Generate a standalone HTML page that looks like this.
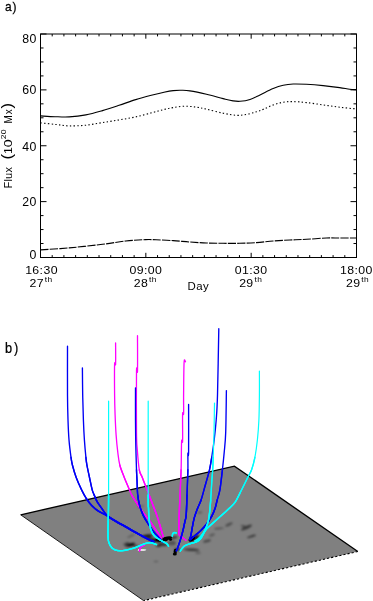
<!DOCTYPE html>
<html><head><meta charset="utf-8">
<style>
html,body{margin:0;padding:0;background:#fff;}
svg{display:block;font-family:"Liberation Sans",sans-serif;}
.t{font-size:11px;letter-spacing:0.35px;fill:#000;}
svg{will-change:transform;}
</style></head><body>
<svg width="373" height="601" viewBox="0 0 373 601">
<defs>
<filter id="bl" x="-50%" y="-50%" width="200%" height="200%"><feGaussianBlur stdDeviation="0.8"/></filter>
<filter id="bl2" x="-50%" y="-50%" width="200%" height="200%"><feGaussianBlur stdDeviation="0.45"/></filter>
<clipPath id="pc"><polygon points="20.7,514.8 234.4,466.1 357.8,551.5 143.6,600.6"/></clipPath>
</defs>
<rect width="373" height="601" fill="#fff"/>
<text transform="translate(5.0,10.8) scale(0.95,1)" font-size="12.6" fill="#000" stroke="#000" stroke-width="0.25" style="letter-spacing:0.9px">a)</text>
<!-- axes -->
<rect x="40.5" y="34.0" width="316.0" height="223.5" fill="none" stroke="#000" stroke-width="1"/>
<path d="M40.50,257.5 v-4.7 M40.50,34.0 v4.7 M52.20,257.5 v-2.4 M52.20,34.0 v2.4 M63.91,257.5 v-2.4 M63.91,34.0 v2.4 M75.61,257.5 v-2.4 M75.61,34.0 v2.4 M87.31,257.5 v-2.4 M87.31,34.0 v2.4 M99.02,257.5 v-2.4 M99.02,34.0 v2.4 M110.72,257.5 v-2.4 M110.72,34.0 v2.4 M122.43,257.5 v-2.4 M122.43,34.0 v2.4 M134.13,257.5 v-2.4 M134.13,34.0 v2.4 M145.83,257.5 v-4.7 M145.83,34.0 v4.7 M157.54,257.5 v-2.4 M157.54,34.0 v2.4 M169.24,257.5 v-2.4 M169.24,34.0 v2.4 M180.94,257.5 v-2.4 M180.94,34.0 v2.4 M192.65,257.5 v-2.4 M192.65,34.0 v2.4 M204.35,257.5 v-2.4 M204.35,34.0 v2.4 M216.06,257.5 v-2.4 M216.06,34.0 v2.4 M227.76,257.5 v-2.4 M227.76,34.0 v2.4 M239.46,257.5 v-2.4 M239.46,34.0 v2.4 M251.17,257.5 v-4.7 M251.17,34.0 v4.7 M262.87,257.5 v-2.4 M262.87,34.0 v2.4 M274.57,257.5 v-2.4 M274.57,34.0 v2.4 M286.28,257.5 v-2.4 M286.28,34.0 v2.4 M297.98,257.5 v-2.4 M297.98,34.0 v2.4 M309.69,257.5 v-2.4 M309.69,34.0 v2.4 M321.39,257.5 v-2.4 M321.39,34.0 v2.4 M333.09,257.5 v-2.4 M333.09,34.0 v2.4 M344.80,257.5 v-2.4 M344.80,34.0 v2.4 M356.50,257.5 v-4.7 M356.50,34.0 v4.7 M40.5,257.50 h6 M356.5,257.50 h-6 M40.5,243.53 h3 M356.5,243.53 h-3 M40.5,229.56 h3 M356.5,229.56 h-3 M40.5,215.59 h3 M356.5,215.59 h-3 M40.5,201.62 h6 M356.5,201.62 h-6 M40.5,187.66 h3 M356.5,187.66 h-3 M40.5,173.69 h3 M356.5,173.69 h-3 M40.5,159.72 h3 M356.5,159.72 h-3 M40.5,145.75 h6 M356.5,145.75 h-6 M40.5,131.78 h3 M356.5,131.78 h-3 M40.5,117.81 h3 M356.5,117.81 h-3 M40.5,103.84 h3 M356.5,103.84 h-3 M40.5,89.88 h6 M356.5,89.88 h-6 M40.5,75.91 h3 M356.5,75.91 h-3 M40.5,61.94 h3 M356.5,61.94 h-3 M40.5,47.97 h3 M356.5,47.97 h-3 M40.5,34.00 h6 M356.5,34.00 h-6" stroke="#000" stroke-width="1" fill="none"/>
<path d="M40.50,115.90 C42.92,116.03 50.22,116.53 55.00,116.70 C59.78,116.87 64.05,117.20 69.20,116.90 C74.35,116.60 80.35,115.95 85.90,114.90 C91.45,113.85 96.97,112.20 102.50,110.60 C108.03,109.00 113.57,107.13 119.10,105.30 C124.63,103.47 130.15,101.32 135.70,99.60 C141.25,97.88 147.68,96.23 152.40,95.00 C157.12,93.77 160.53,92.93 164.00,92.20 C167.47,91.47 170.27,90.92 173.20,90.60 C176.13,90.28 178.82,90.25 181.60,90.30 C184.38,90.35 185.75,90.23 189.90,90.90 C194.05,91.57 200.97,93.02 206.50,94.30 C212.03,95.58 218.67,97.50 223.10,98.60 C227.53,99.70 230.28,100.45 233.10,100.90 C235.92,101.35 237.18,101.55 240.00,101.30 C242.82,101.05 246.67,100.47 250.00,99.40 C253.33,98.33 256.13,96.70 260.00,94.90 C263.87,93.10 269.33,90.20 273.20,88.60 C277.07,87.00 279.87,86.07 283.20,85.30 C286.53,84.53 289.32,84.17 293.20,84.00 C297.08,83.83 301.52,84.03 306.50,84.30 C311.48,84.57 317.57,85.05 323.10,85.60 C328.63,86.15 335.27,86.98 339.70,87.60 C344.13,88.22 346.90,88.97 349.70,89.30 C352.50,89.63 355.37,89.55 356.50,89.60" stroke="#000" stroke-width="1.1" fill="none"/>
<path d="M40.50,122.90 C43.08,123.17 51.22,124.00 56.00,124.50 C60.78,125.00 64.22,125.78 69.20,125.90 C74.18,126.02 80.35,125.75 85.90,125.20 C91.45,124.65 96.97,123.48 102.50,122.60 C108.03,121.72 113.57,120.85 119.10,119.90 C124.63,118.95 130.15,118.12 135.70,116.90 C141.25,115.68 147.68,113.83 152.40,112.60 C157.12,111.37 160.53,110.33 164.00,109.50 C167.47,108.67 169.72,108.15 173.20,107.60 C176.68,107.05 181.02,106.27 184.90,106.20 C188.78,106.13 192.90,106.70 196.50,107.20 C200.10,107.70 202.07,108.20 206.50,109.20 C210.93,110.20 218.12,112.18 223.10,113.20 C228.08,114.22 232.52,115.10 236.40,115.30 C240.28,115.50 243.07,114.98 246.40,114.40 C249.73,113.82 253.47,112.70 256.40,111.80 C259.33,110.90 261.20,110.15 264.00,109.00 C266.80,107.85 270.00,106.03 273.20,104.90 C276.40,103.77 279.87,102.75 283.20,102.20 C286.53,101.65 289.32,101.53 293.20,101.60 C297.08,101.67 301.52,102.05 306.50,102.60 C311.48,103.15 317.57,104.13 323.10,104.90 C328.63,105.67 334.13,106.52 339.70,107.20 C345.27,107.88 353.70,108.70 356.50,109.00" stroke="#000" stroke-width="1.1" fill="none" stroke-dasharray="1.4 2.3"/>
<path d="M40.50,249.90 C45.28,249.57 58.87,248.83 69.20,247.90 C79.53,246.97 93.07,245.45 102.50,244.30 C111.93,243.15 118.60,241.78 125.80,241.00 C133.00,240.22 140.67,239.80 145.70,239.60 C150.73,239.40 151.42,239.63 156.00,239.80 C160.58,239.97 167.55,240.23 173.20,240.60 C178.85,240.97 184.35,241.60 189.90,242.00 C195.45,242.40 200.97,242.78 206.50,243.00 C212.03,243.22 217.57,243.25 223.10,243.30 C228.63,243.35 234.13,243.42 239.70,243.30 C245.27,243.18 250.92,242.98 256.50,242.60 C262.08,242.22 267.63,241.43 273.20,241.00 C278.77,240.57 284.35,240.28 289.90,240.00 C295.45,239.72 300.42,239.63 306.50,239.30 C312.58,238.97 320.87,238.22 326.40,238.00 C331.93,237.78 334.68,238.00 339.70,238.00 C344.72,238.00 353.70,238.00 356.50,238.00" stroke="#000" stroke-width="1.1" fill="none" stroke-dasharray="8.2 1.2"/>
<text transform="translate(36.8,42.5) scale(1.12,1.08)" text-anchor="end" class="t" >80</text>
<text transform="translate(36.8,94.3) scale(1.12,1.08)" text-anchor="end" class="t" >60</text>
<text transform="translate(36.8,150.9) scale(1.12,1.08)" text-anchor="end" class="t" >40</text>
<text transform="translate(36.8,206.3) scale(1.12,1.08)" text-anchor="end" class="t" >20</text>
<text transform="translate(36.8,258.5) scale(1.12,1.08)" text-anchor="end" class="t" >0</text>
<text transform="translate(41.5,274.3) scale(1.12,1)" text-anchor="middle" class="t" >16:30</text><text transform="translate(41.0,287.4) scale(1.12,1)" text-anchor="middle" class="t" >27<tspan dy="-5.5" dx="0.8" font-size="7.5">th</tspan></text>
<text transform="translate(145.8,274.3) scale(1.12,1)" text-anchor="middle" class="t" >09:00</text><text transform="translate(145.3,287.4) scale(1.12,1)" text-anchor="middle" class="t" >28<tspan dy="-5.5" dx="0.8" font-size="7.5">th</tspan></text>
<text transform="translate(251.2,274.3) scale(1.12,1)" text-anchor="middle" class="t" >01:30</text><text transform="translate(250.7,287.4) scale(1.12,1)" text-anchor="middle" class="t" >29<tspan dy="-5.5" dx="0.8" font-size="7.5">th</tspan></text>
<text transform="translate(356.3,274.3) scale(1.12,1)" text-anchor="middle" class="t" >18:00</text><text transform="translate(357.6,287.4) scale(1.12,1)" text-anchor="middle" class="t" >29<tspan dy="-5.5" dx="0.8" font-size="7.5">th</tspan></text>
<text transform="translate(198.3,289.7) scale(1.04,1.05)" text-anchor="middle" class="t">Day</text>
<g transform="translate(11.6,188) rotate(-90)" class="t" style="letter-spacing:0.25px">
<text x="-0.6" y="0">Flux</text>
<text transform="translate(28.6,0.5) scale(1.15,1)" font-size="14.5">(</text>
<text transform="translate(34.1,0) scale(1.12,1)">1</text>
<text transform="translate(40.7,0) scale(1.3,1)">0</text>
<text transform="translate(48.7,-5.6) scale(1.08,1)" font-size="8">20</text>
<text transform="translate(64.4,0) scale(0.9,1)">M</text>
<text transform="translate(73.8,0) scale(0.9,1)">x</text>
<text transform="translate(79.4,0.5) scale(1.15,1)" font-size="14.5">)</text>
</g>
<!-- panel b -->
<text transform="translate(5.1,352.8) scale(0.9,1)" font-size="14.2" fill="#000" stroke="#000" stroke-width="0.25" style="letter-spacing:1.9px">b)</text>
<polygon points="20.7,514.8 234.4,466.1 357.8,551.5 143.6,600.6" fill="#808080"/>
<path d="M20.7,514.8 L234.4,466.1 L357.8,551.5" fill="none" stroke="#000" stroke-width="1.35"/>
<path d="M357.8,551.5 L143.6,600.6" fill="none" stroke="#000" stroke-width="1.1" stroke-dasharray="2.2 2"/>
<path d="M143.6,600.6 L20.7,514.8" fill="none" stroke="#111" stroke-width="0.95"/>
<g clip-path="url(#pc)" filter="url(#bl)">
<ellipse cx="174" cy="537.5" rx="3.5" ry="1.0" transform="rotate(-10 174 537.5)" fill="#000" opacity="0.7"/>
<ellipse cx="172" cy="543" rx="4" ry="2.5" transform="rotate(0 172 543)" fill="#000" opacity="0.35"/>
<ellipse cx="160" cy="539.0" rx="3" ry="1.5" transform="rotate(20 160 539.0)" fill="#000" opacity="0.7"/>
<ellipse cx="147.5" cy="535.9" rx="5.5" ry="1.1" transform="rotate(-5 147.5 535.9)" fill="#000" opacity="0.8"/>
<ellipse cx="163" cy="544.6" rx="4.5" ry="1.4" transform="rotate(5 163 544.6)" fill="#000" opacity="0.65"/>
<ellipse cx="130" cy="544.6" rx="5.5" ry="1.5" transform="rotate(-12 130 544.6)" fill="#000" opacity="0.7"/>
<ellipse cx="194.5" cy="538.3" rx="5.2" ry="2.0" transform="rotate(-28 194.5 538.3)" fill="#000" opacity="0.8"/>
<ellipse cx="207" cy="541" rx="4" ry="1.3" transform="rotate(-15 207 541)" fill="#000" opacity="0.45"/>
<ellipse cx="177" cy="549.5" rx="3" ry="1.5" transform="rotate(0 177 549.5)" fill="#000" opacity="0.6"/>
<ellipse cx="152" cy="539.5" rx="6" ry="1.5" transform="rotate(20 152 539.5)" fill="#000" opacity="0.6"/>
<ellipse cx="131" cy="545" rx="3.5" ry="1.3" transform="rotate(-15 131 545)" fill="#000" opacity="0.8"/>
<ellipse cx="126" cy="543.5" rx="3" ry="0.9" transform="rotate(-20 126 543.5)" fill="#000" opacity="0.5"/>
<ellipse cx="136" cy="546" rx="3" ry="0.9" transform="rotate(-10 136 546)" fill="#000" opacity="0.45"/>
<ellipse cx="131" cy="536" rx="4" ry="0.9" transform="rotate(-25 131 536)" fill="#000" opacity="0.3"/>
<ellipse cx="158.5" cy="545.8" rx="2.6" ry="0.9" transform="rotate(0 158.5 545.8)" fill="#000" opacity="0.85"/>
<ellipse cx="147.5" cy="535.6" rx="4.5" ry="0.9" transform="rotate(-5 147.5 535.6)" fill="#000" opacity="0.6"/>
<ellipse cx="156.5" cy="540.6" rx="4.5" ry="1.4" transform="rotate(12 156.5 540.6)" fill="#000" opacity="0.9"/>
<ellipse cx="141" cy="506.5" rx="3.5" ry="0.8" transform="rotate(-15 141 506.5)" fill="#000" opacity="0.25"/>
<ellipse cx="200" cy="512.5" rx="2.5" ry="1.0" transform="rotate(-10 200 512.5)" fill="#000" opacity="0.3"/>
<ellipse cx="229" cy="524.5" rx="4" ry="1.3" transform="rotate(-25 229 524.5)" fill="#000" opacity="0.4"/>
<ellipse cx="246.5" cy="527.5" rx="6" ry="1.6" transform="rotate(-25 246.5 527.5)" fill="#000" opacity="0.55"/>
<ellipse cx="243" cy="526" rx="2.5" ry="1.0" transform="rotate(10 243 526)" fill="#000" opacity="0.4"/>
<ellipse cx="251.5" cy="536.4" rx="4.5" ry="1.0" transform="rotate(-18 251.5 536.4)" fill="#000" opacity="0.6"/>
<ellipse cx="219" cy="528.5" rx="5" ry="0.9" transform="rotate(-5 219 528.5)" fill="#000" opacity="0.35"/>
<ellipse cx="212" cy="535" rx="3" ry="1.3" transform="rotate(-20 212 535)" fill="#000" opacity="0.3"/>
<ellipse cx="191.5" cy="549.8" rx="8" ry="1.2" transform="rotate(3 191.5 549.8)" fill="#000" opacity="0.6"/>
<ellipse cx="198" cy="553" rx="2.8" ry="0.9" transform="rotate(0 198 553)" fill="#000" opacity="0.3"/>
<ellipse cx="156" cy="561.5" rx="2.5" ry="0.8" transform="rotate(0 156 561.5)" fill="#000" opacity="0.3"/>
</g>
<g clip-path="url(#pc)" filter="url(#bl2)">
<ellipse cx="167.3" cy="538.2" rx="4.8" ry="1.8" transform="rotate(-8 167.3 538.2)" fill="#000" opacity="1.0"/>
<ellipse cx="165.3" cy="539.4" rx="2.6" ry="1.9" transform="rotate(0 165.3 539.4)" fill="#000" opacity="1.0"/>
<ellipse cx="170.5" cy="539.6" rx="1.6" ry="1.2" transform="rotate(0 170.5 539.6)" fill="#000" opacity="1.0"/>
<ellipse cx="191.8" cy="539.0" rx="3.6" ry="2.0" transform="rotate(-32 191.8 539.0)" fill="#000" opacity="1.0"/>
<ellipse cx="175.3" cy="551.4" rx="1.7" ry="2.6" transform="rotate(8 175.3 551.4)" fill="#000" opacity="1.0"/>
<ellipse cx="174.8" cy="554.0" rx="2.0" ry="1.6" transform="rotate(0 174.8 554.0)" fill="#000" opacity="1.0"/>
<ellipse cx="159.5" cy="540.2" rx="4.2" ry="1.5" transform="rotate(10 159.5 540.2)" fill="#000" opacity="0.95"/>
<ellipse cx="142" cy="550" rx="4.4" ry="0.8" transform="rotate(-3 142 550)" fill="#fff" opacity="1.0"/>
<ellipse cx="139.8" cy="549.7" rx="1.8" ry="0.8" transform="rotate(0 139.8 549.7)" fill="#fff" opacity="1.0"/>
</g>
<path d="M115.60,343.00 C115.60,346.50 115.77,360.42 115.60,364.00 C115.43,367.58 114.77,359.33 114.60,364.50 C114.43,369.67 114.52,386.58 114.60,395.00 C114.68,403.42 114.85,408.35 115.10,415.00 C115.35,421.65 115.65,428.67 116.10,434.90 C116.55,441.13 117.18,447.38 117.80,452.40 C118.42,457.42 118.72,460.82 119.80,465.00 C120.88,469.18 122.68,473.35 124.30,477.50 C125.92,481.65 128.27,486.98 129.50,489.90 C130.73,492.82 130.22,492.37 131.70,495.00 C133.18,497.63 136.17,502.35 138.40,505.70 C140.63,509.05 143.08,512.42 145.10,515.10 C147.12,517.78 148.72,519.33 150.50,521.80 C152.28,524.27 154.02,527.22 155.80,529.90 C157.58,532.58 160.30,536.57 161.20,537.90" stroke="#ff00ff" stroke-width="1.3" fill="none" stroke-linecap="round" stroke-linejoin="round"/>
<path d="M119.80,465.00 C120.88,469.18 122.68,473.35 124.30,477.50 C125.92,481.65 128.27,486.98 129.50,489.90 C130.73,492.82 130.22,492.37 131.70,495.00 C133.18,497.63 136.17,502.35 138.40,505.70 C140.63,509.05 143.08,512.42 145.10,515.10 C147.12,517.78 148.72,519.33 150.50,521.80 C152.28,524.27 154.02,527.22 155.80,529.90 C157.58,532.58 160.30,536.57 161.20,537.90" stroke="#ff00ff" stroke-width="1.35" fill="none" stroke-linecap="round"/>
<path d="M131.70,495.00 C133.18,497.63 136.17,502.35 138.40,505.70 C140.63,509.05 143.08,512.42 145.10,515.10 C147.12,517.78 148.72,519.33 150.50,521.80 C152.28,524.27 154.02,527.22 155.80,529.90 C157.58,532.58 160.30,536.57 161.20,537.90" stroke="#ff00ff" stroke-width="1.4" fill="none" stroke-linecap="round"/>
<path d="M137.50,335.70 C137.50,341.58 137.67,365.03 137.50,371.00 C137.33,376.97 136.67,361.27 136.50,371.50 C136.33,381.73 136.37,419.33 136.50,432.40 C136.63,445.47 136.83,443.67 137.30,449.90 C137.77,456.13 138.47,465.20 139.30,469.80 C140.13,474.40 140.67,473.30 142.30,477.50 C143.93,481.70 147.28,490.30 149.10,495.00 C150.92,499.70 151.85,502.13 153.20,505.70 C154.55,509.27 155.98,512.82 157.20,516.40 C158.42,519.98 159.50,523.83 160.50,527.20 C161.50,530.57 162.75,535.03 163.20,536.60" stroke="#ff00ff" stroke-width="1.3" fill="none" stroke-linecap="round" stroke-linejoin="round"/>
<path d="M139.30,469.80 C140.13,474.40 140.67,473.30 142.30,477.50 C143.93,481.70 147.28,490.30 149.10,495.00 C150.92,499.70 151.85,502.13 153.20,505.70 C154.55,509.27 155.98,512.82 157.20,516.40 C158.42,519.98 159.50,523.83 160.50,527.20 C161.50,530.57 162.75,535.03 163.20,536.60" stroke="#ff00ff" stroke-width="1.35" fill="none" stroke-linecap="round"/>
<path d="M149.10,495.00 C150.92,499.70 151.85,502.13 153.20,505.70 C154.55,509.27 155.98,512.82 157.20,516.40 C158.42,519.98 159.50,523.83 160.50,527.20 C161.50,530.57 162.75,535.03 163.20,536.60" stroke="#ff00ff" stroke-width="1.4" fill="none" stroke-linecap="round"/>
<path d="M185.50,361.80 C185.27,361.90 184.42,356.87 184.10,362.40 C183.78,367.93 183.68,386.45 183.60,395.00 C183.52,403.55 183.77,410.50 183.60,413.70 C183.43,416.90 182.77,409.65 182.60,414.20 C182.43,418.75 182.77,436.45 182.60,441.00 C182.43,445.55 181.85,436.70 181.60,441.50 C181.35,446.30 181.37,460.88 181.10,469.80 C180.83,478.72 180.35,486.30 180.00,495.00 C179.65,503.70 179.15,515.48 179.00,522.00 C178.85,528.52 178.85,531.75 179.10,534.10 C179.35,536.45 179.72,535.32 180.50,536.10 C181.28,536.88 182.92,538.13 183.80,538.80 C184.68,539.47 185.47,539.88 185.80,540.10" stroke="#ff00ff" stroke-width="1.3" fill="none" stroke-linecap="round" stroke-linejoin="round"/>
<path d="M181.10,469.80 C180.83,478.72 180.35,486.30 180.00,495.00 C179.65,503.70 179.15,515.48 179.00,522.00 C178.85,528.52 178.85,531.75 179.10,534.10 C179.35,536.45 179.72,535.32 180.50,536.10 C181.28,536.88 182.92,538.13 183.80,538.80 C184.68,539.47 185.47,539.88 185.80,540.10" stroke="#ff00ff" stroke-width="1.35" fill="none" stroke-linecap="round"/>
<path d="M180.00,495.00 C179.65,503.70 179.15,515.48 179.00,522.00 C178.85,528.52 178.85,531.75 179.10,534.10 C179.35,536.45 179.72,535.32 180.50,536.10 C181.28,536.88 182.92,538.13 183.80,538.80 C184.68,539.47 185.47,539.88 185.80,540.10" stroke="#ff00ff" stroke-width="1.4" fill="none" stroke-linecap="round"/>
<path d="M139.50,550.90 C139.63,550.37 139.83,548.50 140.30,547.70 C140.77,546.90 141.60,546.50 142.30,546.10 C143.00,545.70 144.13,545.43 144.50,545.30" stroke="#ff00ff" stroke-width="1.3" fill="none" stroke-linecap="round" stroke-linejoin="round"/>
<path d="M139.50,550.90 C139.63,550.37 139.83,548.50 140.30,547.70 C140.77,546.90 141.60,546.50 142.30,546.10 C143.00,545.70 144.13,545.43 144.50,545.30" stroke="#ff00ff" stroke-width="1.35" fill="none" stroke-linecap="round"/>
<path d="M139.50,550.90 C139.63,550.37 139.83,548.50 140.30,547.70 C140.77,546.90 141.60,546.50 142.30,546.10 C143.00,545.70 144.13,545.43 144.50,545.30" stroke="#ff00ff" stroke-width="1.4" fill="none" stroke-linecap="round"/>
<path d="M67.50,346.20 C67.50,354.33 67.42,382.70 67.50,395.00 C67.58,407.30 67.75,412.52 68.00,420.00 C68.25,427.48 68.50,433.68 69.00,439.90 C69.50,446.12 70.43,453.12 71.00,457.30 C71.57,461.48 71.53,461.63 72.40,465.00 C73.27,468.37 74.67,473.35 76.20,477.50 C77.73,481.65 79.92,486.40 81.60,489.90 C83.28,493.40 84.62,495.90 86.30,498.50 C87.98,501.10 89.68,503.40 91.70,505.50 C93.72,507.60 95.95,509.47 98.40,511.10 C100.85,512.73 104.17,513.97 106.40,515.30 C108.63,516.63 109.78,517.82 111.80,519.10 C113.82,520.38 116.30,521.75 118.50,523.00 C120.70,524.25 121.68,524.73 125.00,526.60 C128.32,528.47 134.60,532.10 138.40,534.20 C142.20,536.30 145.23,537.90 147.80,539.20 C150.37,540.50 152.80,541.53 153.80,542.00" stroke="#0000f5" stroke-width="1.35" fill="none" stroke-linecap="round" stroke-linejoin="round"/>
<path d="M71.00,457.30 C71.57,461.48 71.53,461.63 72.40,465.00 C73.27,468.37 74.67,473.35 76.20,477.50 C77.73,481.65 79.92,486.40 81.60,489.90 C83.28,493.40 84.62,495.90 86.30,498.50 C87.98,501.10 89.68,503.40 91.70,505.50 C93.72,507.60 95.95,509.47 98.40,511.10 C100.85,512.73 104.17,513.97 106.40,515.30 C108.63,516.63 109.78,517.82 111.80,519.10 C113.82,520.38 116.30,521.75 118.50,523.00 C120.70,524.25 121.68,524.73 125.00,526.60 C128.32,528.47 134.60,532.10 138.40,534.20 C142.20,536.30 145.23,537.90 147.80,539.20 C150.37,540.50 152.80,541.53 153.80,542.00" stroke="#0000f5" stroke-width="1.4" fill="none" stroke-linecap="round"/>
<path d="M86.30,498.50 C87.98,501.10 89.68,503.40 91.70,505.50 C93.72,507.60 95.95,509.47 98.40,511.10 C100.85,512.73 104.17,513.97 106.40,515.30 C108.63,516.63 109.78,517.82 111.80,519.10 C113.82,520.38 116.30,521.75 118.50,523.00 C120.70,524.25 121.68,524.73 125.00,526.60 C128.32,528.47 134.60,532.10 138.40,534.20 C142.20,536.30 145.23,537.90 147.80,539.20 C150.37,540.50 152.80,541.53 153.80,542.00" stroke="#0000f5" stroke-width="1.5" fill="none" stroke-linecap="round"/>
<path d="M82.40,367.90 C82.45,372.42 82.53,386.32 82.70,395.00 C82.87,403.68 83.12,412.52 83.40,420.00 C83.68,427.48 83.98,433.68 84.40,439.90 C84.82,446.12 85.48,453.12 85.90,457.30 C86.32,461.48 86.30,461.63 86.90,465.00 C87.50,468.37 88.62,473.35 89.50,477.50 C90.38,481.65 91.42,486.98 92.20,489.90 C92.98,492.82 93.38,493.03 94.20,495.00 C95.02,496.97 95.83,499.47 97.10,501.70 C98.37,503.93 100.25,506.22 101.80,508.40 C103.35,510.58 104.73,513.08 106.40,514.80 C108.07,516.52 109.78,517.40 111.80,518.70 C113.82,520.00 116.30,521.35 118.50,522.60 C120.70,523.85 121.68,524.33 125.00,526.20 C128.32,528.07 134.60,531.70 138.40,533.80 C142.20,535.90 145.23,537.52 147.80,538.80 C150.37,540.08 152.80,541.05 153.80,541.50" stroke="#0000f5" stroke-width="1.35" fill="none" stroke-linecap="round" stroke-linejoin="round"/>
<path d="M85.90,457.30 C86.32,461.48 86.30,461.63 86.90,465.00 C87.50,468.37 88.62,473.35 89.50,477.50 C90.38,481.65 91.42,486.98 92.20,489.90 C92.98,492.82 93.38,493.03 94.20,495.00 C95.02,496.97 95.83,499.47 97.10,501.70 C98.37,503.93 100.25,506.22 101.80,508.40 C103.35,510.58 104.73,513.08 106.40,514.80 C108.07,516.52 109.78,517.40 111.80,518.70 C113.82,520.00 116.30,521.35 118.50,522.60 C120.70,523.85 121.68,524.33 125.00,526.20 C128.32,528.07 134.60,531.70 138.40,533.80 C142.20,535.90 145.23,537.52 147.80,538.80 C150.37,540.08 152.80,541.05 153.80,541.50" stroke="#0000f5" stroke-width="1.4" fill="none" stroke-linecap="round"/>
<path d="M94.20,495.00 C95.02,496.97 95.83,499.47 97.10,501.70 C98.37,503.93 100.25,506.22 101.80,508.40 C103.35,510.58 104.73,513.08 106.40,514.80 C108.07,516.52 109.78,517.40 111.80,518.70 C113.82,520.00 116.30,521.35 118.50,522.60 C120.70,523.85 121.68,524.33 125.00,526.20 C128.32,528.07 134.60,531.70 138.40,533.80 C142.20,535.90 145.23,537.52 147.80,538.80 C150.37,540.08 152.80,541.05 153.80,541.50" stroke="#0000f5" stroke-width="1.5" fill="none" stroke-linecap="round"/>
<path d="M135.50,387.80 C135.50,393.17 135.45,410.48 135.50,420.00 C135.55,429.52 135.63,436.60 135.80,444.90 C135.97,453.20 136.30,463.95 136.50,469.80 C136.70,475.65 136.80,475.80 137.00,480.00 C137.20,484.20 137.25,490.72 137.70,495.00 C138.15,499.28 138.80,502.35 139.70,505.70 C140.60,509.05 141.75,512.18 143.10,515.10 C144.45,518.02 146.12,520.52 147.80,523.20 C149.48,525.88 151.18,528.63 153.20,531.20 C155.22,533.77 158.35,536.82 159.90,538.60 C161.45,540.38 162.07,541.35 162.50,541.90" stroke="#0000f5" stroke-width="1.35" fill="none" stroke-linecap="round" stroke-linejoin="round"/>
<path d="M136.50,469.80 C136.70,475.65 136.80,475.80 137.00,480.00 C137.20,484.20 137.25,490.72 137.70,495.00 C138.15,499.28 138.80,502.35 139.70,505.70 C140.60,509.05 141.75,512.18 143.10,515.10 C144.45,518.02 146.12,520.52 147.80,523.20 C149.48,525.88 151.18,528.63 153.20,531.20 C155.22,533.77 158.35,536.82 159.90,538.60 C161.45,540.38 162.07,541.35 162.50,541.90" stroke="#0000f5" stroke-width="1.4" fill="none" stroke-linecap="round"/>
<path d="M137.70,495.00 C138.15,499.28 138.80,502.35 139.70,505.70 C140.60,509.05 141.75,512.18 143.10,515.10 C144.45,518.02 146.12,520.52 147.80,523.20 C149.48,525.88 151.18,528.63 153.20,531.20 C155.22,533.77 158.35,536.82 159.90,538.60 C161.45,540.38 162.07,541.35 162.50,541.90" stroke="#0000f5" stroke-width="1.5" fill="none" stroke-linecap="round"/>
<path d="M188.60,404.50 C188.60,412.48 188.72,444.23 188.60,452.40 C188.48,460.57 188.02,450.60 187.90,453.50 C187.78,456.40 188.05,462.88 187.90,469.80 C187.75,476.72 187.28,487.47 187.00,495.00 C186.72,502.53 186.57,510.50 186.20,515.00 C185.83,519.50 185.32,519.50 184.80,522.00 C184.28,524.50 183.82,527.10 183.10,530.00 C182.38,532.90 181.38,536.48 180.50,539.40 C179.62,542.32 178.48,545.60 177.80,547.50 C177.12,549.40 176.63,550.25 176.40,550.80" stroke="#0000f5" stroke-width="1.35" fill="none" stroke-linecap="round" stroke-linejoin="round"/>
<path d="M187.90,469.80 C187.75,476.72 187.28,487.47 187.00,495.00 C186.72,502.53 186.57,510.50 186.20,515.00 C185.83,519.50 185.32,519.50 184.80,522.00 C184.28,524.50 183.82,527.10 183.10,530.00 C182.38,532.90 181.38,536.48 180.50,539.40 C179.62,542.32 178.48,545.60 177.80,547.50 C177.12,549.40 176.63,550.25 176.40,550.80" stroke="#0000f5" stroke-width="1.4" fill="none" stroke-linecap="round"/>
<path d="M187.00,495.00 C186.72,502.53 186.57,510.50 186.20,515.00 C185.83,519.50 185.32,519.50 184.80,522.00 C184.28,524.50 183.82,527.10 183.10,530.00 C182.38,532.90 181.38,536.48 180.50,539.40 C179.62,542.32 178.48,545.60 177.80,547.50 C177.12,549.40 176.63,550.25 176.40,550.80" stroke="#0000f5" stroke-width="1.5" fill="none" stroke-linecap="round"/>
<path d="M218.80,328.70 C218.58,339.75 217.93,379.78 217.50,395.00 C217.07,410.22 216.75,412.52 216.20,420.00 C215.65,427.48 214.95,433.68 214.20,439.90 C213.45,446.12 212.48,452.32 211.70,457.30 C210.92,462.28 210.70,464.68 209.50,469.80 C208.30,474.92 205.90,482.97 204.50,488.00 C203.10,493.03 202.23,496.67 201.10,500.00 C199.97,503.33 198.82,505.10 197.70,508.00 C196.58,510.90 195.28,514.27 194.40,517.40 C193.52,520.53 192.97,523.88 192.40,526.80 C191.83,529.72 191.45,532.78 191.00,534.90 C190.55,537.02 189.92,538.73 189.70,539.50" stroke="#0000f5" stroke-width="1.35" fill="none" stroke-linecap="round" stroke-linejoin="round"/>
<path d="M211.70,457.30 C210.92,462.28 210.70,464.68 209.50,469.80 C208.30,474.92 205.90,482.97 204.50,488.00 C203.10,493.03 202.23,496.67 201.10,500.00 C199.97,503.33 198.82,505.10 197.70,508.00 C196.58,510.90 195.28,514.27 194.40,517.40 C193.52,520.53 192.97,523.88 192.40,526.80 C191.83,529.72 191.45,532.78 191.00,534.90 C190.55,537.02 189.92,538.73 189.70,539.50" stroke="#0000f5" stroke-width="1.4" fill="none" stroke-linecap="round"/>
<path d="M201.10,500.00 C199.97,503.33 198.82,505.10 197.70,508.00 C196.58,510.90 195.28,514.27 194.40,517.40 C193.52,520.53 192.97,523.88 192.40,526.80 C191.83,529.72 191.45,532.78 191.00,534.90 C190.55,537.02 189.92,538.73 189.70,539.50" stroke="#0000f5" stroke-width="1.5" fill="none" stroke-linecap="round"/>
<path d="M226.40,390.60 C226.28,397.57 226.07,422.10 225.70,432.40 C225.33,442.70 224.75,446.17 224.20,452.40 C223.65,458.63 223.12,463.55 222.40,469.80 C221.68,476.05 220.77,484.87 219.90,489.90 C219.03,494.93 217.98,496.98 217.20,500.00 C216.42,503.02 216.10,505.32 215.20,508.00 C214.30,510.68 213.15,513.52 211.80,516.10 C210.45,518.68 208.88,521.15 207.10,523.50 C205.32,525.85 203.10,528.20 201.10,530.20 C199.10,532.20 196.88,533.95 195.10,535.50 C193.32,537.05 191.18,538.83 190.40,539.50" stroke="#0000f5" stroke-width="1.35" fill="none" stroke-linecap="round" stroke-linejoin="round"/>
<path d="M222.40,469.80 C221.68,476.05 220.77,484.87 219.90,489.90 C219.03,494.93 217.98,496.98 217.20,500.00 C216.42,503.02 216.10,505.32 215.20,508.00 C214.30,510.68 213.15,513.52 211.80,516.10 C210.45,518.68 208.88,521.15 207.10,523.50 C205.32,525.85 203.10,528.20 201.10,530.20 C199.10,532.20 196.88,533.95 195.10,535.50 C193.32,537.05 191.18,538.83 190.40,539.50" stroke="#0000f5" stroke-width="1.4" fill="none" stroke-linecap="round"/>
<path d="M217.20,500.00 C216.42,503.02 216.10,505.32 215.20,508.00 C214.30,510.68 213.15,513.52 211.80,516.10 C210.45,518.68 208.88,521.15 207.10,523.50 C205.32,525.85 203.10,528.20 201.10,530.20 C199.10,532.20 196.88,533.95 195.10,535.50 C193.32,537.05 191.18,538.83 190.40,539.50" stroke="#0000f5" stroke-width="1.5" fill="none" stroke-linecap="round"/>
<path d="M108.60,401.20 C108.60,416.83 108.67,475.20 108.60,495.00 C108.53,514.80 108.30,513.17 108.20,520.00 C108.10,526.83 107.90,532.25 108.00,536.00 C108.10,539.75 108.12,540.48 108.80,542.50 C109.48,544.52 110.62,546.75 112.10,548.10 C113.58,549.45 115.43,550.25 117.70,550.60 C119.97,550.95 123.02,550.62 125.70,550.20 C128.38,549.78 131.38,548.88 133.80,548.10 C136.22,547.32 138.07,546.32 140.20,545.50 C142.33,544.68 144.72,543.65 146.60,543.20 C148.48,542.75 149.85,542.57 151.50,542.80 C153.15,543.03 155.67,544.30 156.50,544.60" stroke="#00ffff" stroke-width="1.2" fill="none" stroke-linecap="round" stroke-linejoin="round"/>
<path d="M108.60,495.00 C108.53,514.80 108.30,513.17 108.20,520.00 C108.10,526.83 107.90,532.25 108.00,536.00 C108.10,539.75 108.12,540.48 108.80,542.50 C109.48,544.52 110.62,546.75 112.10,548.10 C113.58,549.45 115.43,550.25 117.70,550.60 C119.97,550.95 123.02,550.62 125.70,550.20 C128.38,549.78 131.38,548.88 133.80,548.10 C136.22,547.32 138.07,546.32 140.20,545.50 C142.33,544.68 144.72,543.65 146.60,543.20 C148.48,542.75 149.85,542.57 151.50,542.80 C153.15,543.03 155.67,544.30 156.50,544.60" stroke="#00ffff" stroke-width="1.35" fill="none" stroke-linecap="round"/>
<path d="M108.60,495.00 C108.53,514.80 108.30,513.17 108.20,520.00 C108.10,526.83 107.90,532.25 108.00,536.00 C108.10,539.75 108.12,540.48 108.80,542.50 C109.48,544.52 110.62,546.75 112.10,548.10 C113.58,549.45 115.43,550.25 117.70,550.60 C119.97,550.95 123.02,550.62 125.70,550.20 C128.38,549.78 131.38,548.88 133.80,548.10 C136.22,547.32 138.07,546.32 140.20,545.50 C142.33,544.68 144.72,543.65 146.60,543.20 C148.48,542.75 149.85,542.57 151.50,542.80 C153.15,543.03 155.67,544.30 156.50,544.60" stroke="#00ffff" stroke-width="1.5" fill="none" stroke-linecap="round"/>
<path d="M148.20,401.20 C148.20,416.83 148.15,477.13 148.20,495.00 C148.25,512.87 148.35,504.38 148.50,508.40 C148.65,512.42 148.77,515.75 149.10,519.10 C149.43,522.45 149.72,525.82 150.50,528.50 C151.28,531.18 152.23,533.30 153.80,535.20 C155.37,537.10 157.77,538.50 159.90,539.90 C162.03,541.30 165.17,542.55 166.60,543.60 C168.03,544.65 168.18,545.77 168.50,546.20" stroke="#00ffff" stroke-width="1.2" fill="none" stroke-linecap="round" stroke-linejoin="round"/>
<path d="M148.20,495.00 C148.25,512.87 148.35,504.38 148.50,508.40 C148.65,512.42 148.77,515.75 149.10,519.10 C149.43,522.45 149.72,525.82 150.50,528.50 C151.28,531.18 152.23,533.30 153.80,535.20 C155.37,537.10 157.77,538.50 159.90,539.90 C162.03,541.30 165.17,542.55 166.60,543.60 C168.03,544.65 168.18,545.77 168.50,546.20" stroke="#00ffff" stroke-width="1.35" fill="none" stroke-linecap="round"/>
<path d="M148.20,495.00 C148.25,512.87 148.35,504.38 148.50,508.40 C148.65,512.42 148.77,515.75 149.10,519.10 C149.43,522.45 149.72,525.82 150.50,528.50 C151.28,531.18 152.23,533.30 153.80,535.20 C155.37,537.10 157.77,538.50 159.90,539.90 C162.03,541.30 165.17,542.55 166.60,543.60 C168.03,544.65 168.18,545.77 168.50,546.20" stroke="#00ffff" stroke-width="1.5" fill="none" stroke-linecap="round"/>
<path d="M214.50,403.00 C214.42,407.90 214.22,423.35 214.00,432.40 C213.78,441.45 213.42,451.07 213.20,457.30 C212.98,463.53 212.92,466.02 212.70,469.80 C212.48,473.58 212.23,474.97 211.90,480.00 C211.57,485.03 211.05,494.88 210.70,500.00 C210.35,505.12 210.17,507.35 209.80,510.70 C209.43,514.05 209.07,517.42 208.50,520.10 C207.93,522.78 207.30,524.57 206.40,526.80 C205.50,529.03 204.43,531.48 203.10,533.50 C201.77,535.52 199.73,537.67 198.40,538.90 C197.07,540.13 195.65,540.57 195.10,540.90" stroke="#00ffff" stroke-width="1.2" fill="none" stroke-linecap="round" stroke-linejoin="round"/>
<path d="M213.20,457.30 C212.98,463.53 212.92,466.02 212.70,469.80 C212.48,473.58 212.23,474.97 211.90,480.00 C211.57,485.03 211.05,494.88 210.70,500.00 C210.35,505.12 210.17,507.35 209.80,510.70 C209.43,514.05 209.07,517.42 208.50,520.10 C207.93,522.78 207.30,524.57 206.40,526.80 C205.50,529.03 204.43,531.48 203.10,533.50 C201.77,535.52 199.73,537.67 198.40,538.90 C197.07,540.13 195.65,540.57 195.10,540.90" stroke="#00ffff" stroke-width="1.35" fill="none" stroke-linecap="round"/>
<path d="M210.70,500.00 C210.35,505.12 210.17,507.35 209.80,510.70 C209.43,514.05 209.07,517.42 208.50,520.10 C207.93,522.78 207.30,524.57 206.40,526.80 C205.50,529.03 204.43,531.48 203.10,533.50 C201.77,535.52 199.73,537.67 198.40,538.90 C197.07,540.13 195.65,540.57 195.10,540.90" stroke="#00ffff" stroke-width="1.5" fill="none" stroke-linecap="round"/>
<path d="M259.40,371.10 C259.40,375.08 259.48,386.85 259.40,395.00 C259.32,403.15 259.23,412.52 258.90,420.00 C258.57,427.48 258.07,433.68 257.40,439.90 C256.73,446.12 255.87,452.32 254.90,457.30 C253.93,462.28 252.65,466.72 251.60,469.80 C250.55,472.88 250.48,472.03 248.60,475.80 C246.72,479.57 242.57,487.97 240.30,492.40 C238.03,496.83 237.07,499.53 235.00,502.40 C232.93,505.27 230.42,507.20 227.90,509.60 C225.38,512.00 222.58,514.38 219.90,516.80 C217.22,519.22 214.02,522.08 211.80,524.10 C209.58,526.12 207.95,527.33 206.60,528.90 C205.25,530.47 204.72,531.83 203.70,533.50 C202.68,535.17 201.70,537.50 200.50,538.90 C199.30,540.30 198.18,541.12 196.50,541.90 C194.82,542.68 192.32,542.98 190.40,543.60 C188.48,544.22 186.43,544.73 185.00,545.60 C183.57,546.47 182.58,547.87 181.80,548.80 C181.02,549.73 180.55,550.80 180.30,551.20" stroke="#00ffff" stroke-width="1.2" fill="none" stroke-linecap="round" stroke-linejoin="round"/>
<path d="M254.90,457.30 C253.93,462.28 252.65,466.72 251.60,469.80 C250.55,472.88 250.48,472.03 248.60,475.80 C246.72,479.57 242.57,487.97 240.30,492.40 C238.03,496.83 237.07,499.53 235.00,502.40 C232.93,505.27 230.42,507.20 227.90,509.60 C225.38,512.00 222.58,514.38 219.90,516.80 C217.22,519.22 214.02,522.08 211.80,524.10 C209.58,526.12 207.95,527.33 206.60,528.90 C205.25,530.47 204.72,531.83 203.70,533.50 C202.68,535.17 201.70,537.50 200.50,538.90 C199.30,540.30 198.18,541.12 196.50,541.90 C194.82,542.68 192.32,542.98 190.40,543.60 C188.48,544.22 186.43,544.73 185.00,545.60 C183.57,546.47 182.58,547.87 181.80,548.80 C181.02,549.73 180.55,550.80 180.30,551.20" stroke="#00ffff" stroke-width="1.35" fill="none" stroke-linecap="round"/>
<path d="M240.30,492.40 C238.03,496.83 237.07,499.53 235.00,502.40 C232.93,505.27 230.42,507.20 227.90,509.60 C225.38,512.00 222.58,514.38 219.90,516.80 C217.22,519.22 214.02,522.08 211.80,524.10 C209.58,526.12 207.95,527.33 206.60,528.90 C205.25,530.47 204.72,531.83 203.70,533.50 C202.68,535.17 201.70,537.50 200.50,538.90 C199.30,540.30 198.18,541.12 196.50,541.90 C194.82,542.68 192.32,542.98 190.40,543.60 C188.48,544.22 186.43,544.73 185.00,545.60 C183.57,546.47 182.58,547.87 181.80,548.80 C181.02,549.73 180.55,550.80 180.30,551.20" stroke="#00ffff" stroke-width="1.5" fill="none" stroke-linecap="round"/>
<path d="M172.30,536.00 C172.38,535.62 172.47,534.27 172.80,533.70 C173.13,533.13 173.73,532.73 174.30,532.60 C174.87,532.47 175.88,532.85 176.20,532.90" stroke="#00ffff" stroke-width="1.2" fill="none" stroke-linecap="round" stroke-linejoin="round"/>
<path d="M172.30,536.00 C172.38,535.62 172.47,534.27 172.80,533.70 C173.13,533.13 173.73,532.73 174.30,532.60 C174.87,532.47 175.88,532.85 176.20,532.90" stroke="#00ffff" stroke-width="1.35" fill="none" stroke-linecap="round"/>
<path d="M172.30,536.00 C172.38,535.62 172.47,534.27 172.80,533.70 C173.13,533.13 173.73,532.73 174.30,532.60 C174.87,532.47 175.88,532.85 176.20,532.90" stroke="#00ffff" stroke-width="1.5" fill="none" stroke-linecap="round"/>
</svg>
</body></html>
